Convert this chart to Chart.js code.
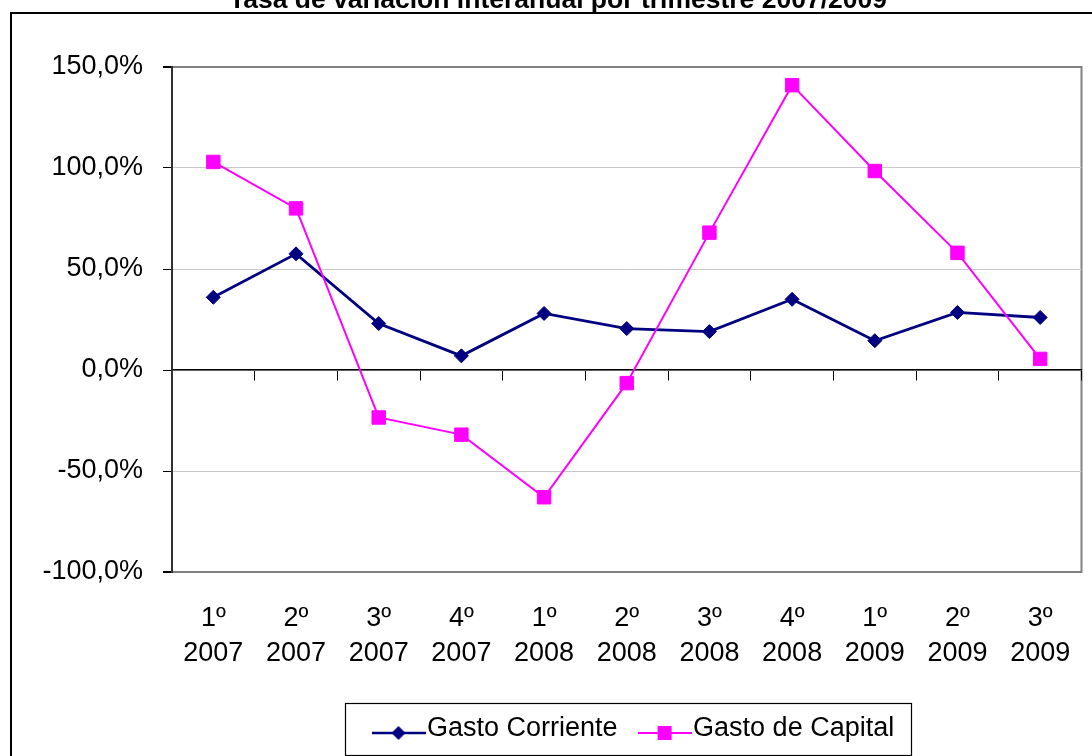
<!DOCTYPE html>
<html>
<head>
<meta charset="utf-8">
<script src="https://cdn.jsdelivr.net/npm/chart.js@4.4.1/dist/chart.umd.min.js"></script>
<style>
  html, body { margin: 0; padding: 0; background: #fff; }
  canvas { display: block; }
</style>
</head>
<body>
<canvas id="grafico" width="1092" height="756"></canvas>
<script>
// datos (en %)
const titulo = 'Tasa de variación interanual por trimestre 2007/2009';
const trimestres = ['1º', '2º', '3º', '4º', '1º', '2º', '3º', '4º', '1º', '2º', '3º'];
const anios = ['2007', '2007', '2007', '2007', '2008', '2008', '2008', '2008', '2009', '2009', '2009'];
const gastoCorriente = [36, 57.5, 23, 7, 28, 20.5, 19, 35, 14.5, 28.5, 26];
const gastoCapital = [103, 80, -23.5, -32, -63, -6.5, 68, 141, 98.5, 58, 5.5];
const yMin = -100, yMax = 150, yPaso = 50;

const FUENTE = 'Liberation Sans, Arial, Helvetica, sans-serif';
const AZUL = '#000080';
const MAGENTA = '#FF00FF';

// marca de leyenda: línea + símbolo, como en Excel
function marcaLeyenda(color, forma, grosor) {
  const c = document.createElement('canvas');
  c.width = 54; c.height = 22;
  const g = c.getContext('2d');
  const yl = 15;
  g.strokeStyle = color; g.fillStyle = color; g.lineWidth = grosor;
  g.beginPath(); g.moveTo(0, yl); g.lineTo(54, yl); g.stroke();
  g.beginPath();
  if (forma === 'rombo') {
    g.moveTo(27 - 7, yl); g.lineTo(27, yl - 7); g.lineTo(27 + 7, yl); g.lineTo(27, yl + 7);
  } else {
    g.rect(27 - 7, yl - 7, 14, 14);
  }
  g.closePath(); g.fill();
  return c;
}
const marcas = [marcaLeyenda(AZUL, 'rombo', 2.5), marcaLeyenda(MAGENTA, 'cuadro', 2)];

const etiquetas = trimestres.map((t, i) => [t, anios[i]]);

// marco exterior, borde del área de trazado y título
const marco = {
  id: 'marco',
  beforeDraw(chart) {
    const { ctx, chartArea: a } = chart;
    ctx.save();
    ctx.fillStyle = '#fff';
    ctx.fillRect(0, 0, chart.width, chart.height);
    ctx.strokeStyle = '#000';
    ctx.lineWidth = 2;
    ctx.strokeRect(11, 13, chart.width + 20, chart.height + 20);
    ctx.strokeStyle = '#808080';
    ctx.lineWidth = 2;
    ctx.strokeRect(a.left, a.top, a.right - a.left, a.bottom - a.top);
    ctx.fillStyle = '#000';
    ctx.font = 'bold 26.5px ' + FUENTE;
    ctx.textAlign = 'center';
    ctx.textBaseline = 'alphabetic';
    ctx.fillText(titulo, 558, 8);
    ctx.restore();
  }
};

// desplaza la leyenda y le dibuja su recuadro
const cajaLeyenda = {
  id: 'cajaLeyenda',
  afterLayout(chart) {
    const lg = chart.legend;
    const p = lg.options.labels.padding;
    const x0 = (lg.left + p + lg.right - lg.lineWidths[0]) / 2;
    const dx = 383.5 - x0;
    lg.left += dx; lg.right += dx;
  },
  afterDraw(chart) {
    const hb = chart.legend.legendHitBoxes;
    if (!hb || !hb.length) return;
    const { ctx } = chart;
    const izq = hb[0].left - 38.5;
    const der = hb[hb.length - 1].left + hb[hb.length - 1].width + 17;
    const cy = hb[0].top + hb[0].height / 2;
    ctx.save();
    ctx.strokeStyle = '#000';
    ctx.lineWidth = 1.2;
    ctx.strokeRect(Math.round(izq) + 0.5, Math.round(cy - 26) + 0.5, Math.round(der - izq), 52);
    ctx.restore();
  }
};

new Chart(document.getElementById('grafico'), {
  type: 'line',
  data: {
    labels: etiquetas,
    datasets: [
      {
        label: 'Gasto Corriente',
        data: gastoCorriente,
        borderColor: AZUL,
        backgroundColor: AZUL,
        borderWidth: 2.8,
        pointStyle: 'rectRot',
        pointRadius: 7,
        pointBorderWidth: 1,
        tension: 0,
        order: 2
      },
      {
        label: 'Gasto de Capital',
        data: gastoCapital,
        borderColor: MAGENTA,
        backgroundColor: MAGENTA,
        borderWidth: 2,
        pointStyle: 'rect',
        pointRadius: 9.5,
        pointBorderWidth: 1,
        tension: 0,
        order: 1
      }
    ]
  },
  options: {
    responsive: false,
    animation: false,
    layout: { padding: { top: 67, left: 0, right: 10, bottom: 3.5 } },
    scales: {
      x: {
        type: 'category',
        position: 'bottom',
        offset: true,
        grid: { display: false, drawTicks: false },
        border: { display: false },
        ticks: {
          color: '#000',
          font: { family: FUENTE, size: 27, lineHeight: 1.3 },
          padding: 28.5,
          maxRotation: 0,
          autoSkip: false
        },
        afterFit(s) { s.height = 111.5; s.paddingLeft = 0; s.paddingRight = 0; }
      },
      eje0: {
        type: 'category',
        axis: 'x',
        position: { y: 0 },
        offset: true,
        grid: {
          offset: true,
          drawOnChartArea: false,
          drawTicks: true,
          tickLength: 10,
          tickColor: '#000',
          lineWidth: 1
        },
        border: { display: true, color: '#000', width: 1.5 },
        ticks: { display: false },
        afterFit(s) { s.height = 0; s.paddingLeft = 0; s.paddingRight = 0; }
      },
      y: {
        min: yMin,
        max: yMax,
        ticks: {
          stepSize: yPaso,
          color: '#000',
          font: { family: FUENTE, size: 27 },
          padding: 20,
          callback: v => v.toFixed(1).replace('.', ',') + '%'
        },
        grid: {
          color: c => (c.tick.value === yMax || c.tick.value === yMin) ? '#808080' : '#c8c8c8',
          lineWidth: c => (c.tick.value === yMax || c.tick.value === yMin) ? 2 : 1,
          tickColor: '#000',
          tickLength: 9
        },
        border: { display: true, color: '#303030', width: 2 },
        afterFit(s) { s.width = 172; }
      }
    },
    plugins: {
      tooltip: { enabled: false },
      legend: {
        position: 'bottom',
        labels: {
          usePointStyle: true,
          pointStyleWidth: 30,
          padding: 32,
          color: '#000',
          font: { family: FUENTE, size: 27 },
          generateLabels: chart => chart.data.datasets.map((ds, i) => ({
            text: ds.label,
            fillStyle: ds.borderColor,
            strokeStyle: ds.borderColor,
            lineWidth: 0,
            pointStyle: marcas[i],
            fontColor: '#000',
            hidden: false,
            datasetIndex: i
          }))
        }
      }
    }
  },
  plugins: [marco, cajaLeyenda]
});
</script>
</body>
</html>
